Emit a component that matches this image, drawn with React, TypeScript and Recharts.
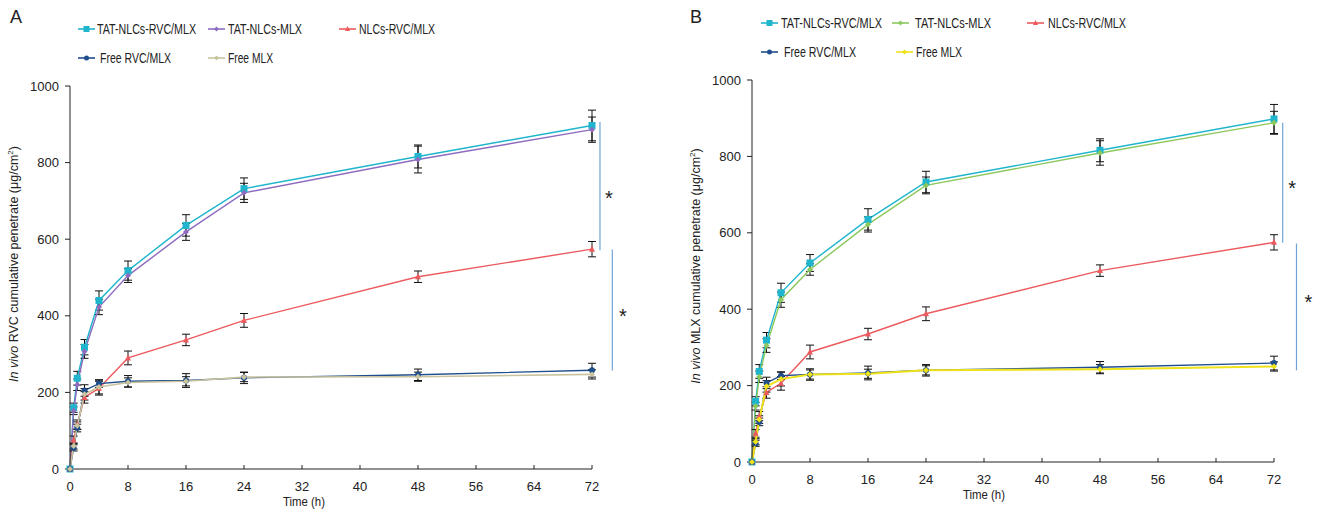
import React from 'react'
import { LineChart, Line, XAxis, YAxis, ErrorBar, ReferenceLine } from 'recharts'

// sampling times (h)
const times = [0, 0.5, 1, 2, 4, 8, 16, 24, 48, 72]
const xTicks = [0, 8, 16, 24, 32, 40, 48, 56, 64, 72]
const yTicks = [0, 200, 400, 600, 800, 1000]

// Panel A: RVC cumulative penetration (ug/cm2)
const aTatRvcMlx = [0, 160, 237, 318, 440, 518, 636, 732, 816, 897]
const aTatRvcMlxErr = [0, 12, 18, 20, 25, 25, 28, 28, 30, 40]
const aTatMlx = [0, 152, 220, 307, 423, 505, 619, 721, 808, 886]
const aTatMlxErr = [0, 10, 15, 18, 20, 18, 22, 25, 35, 33]
const aNlcRvcMlx = [0, 76, 116, 187, 211, 290, 337, 388, 502, 574]
const aNlcRvcMlxErr = [0, 10, 12, 15, 18, 18, 15, 18, 15, 20]
const aFreeRvcMlx = [0, 55, 107, 205, 223, 229, 231, 238, 246, 258]
const aFreeRvcMlxErr = [0, 8, 10, 15, 10, 15, 18, 15, 15, 18]
const aFreeMlx = [0, 60, 113, 195, 214, 226, 229, 240, 241, 247]
const aFreeMlxErr = [0, 8, 10, 15, 18, 12, 12, 12, 12, 12]

// Panel B: MLX cumulative penetration (ug/cm2)
const bTatRvcMlx = [0, 159, 237, 319, 443, 521, 635, 733, 816, 898]
const bTatRvcMlxErr = [0, 12, 18, 20, 25, 22, 28, 28, 30, 38]
const bTatMlx = [0, 146, 223, 305, 425, 504, 622, 724, 809, 888]
const bTatMlxErr = [0, 10, 15, 18, 20, 15, 20, 22, 32, 30]
const bNlcRvcMlx = [0, 75, 120, 182, 206, 288, 335, 388, 501, 575]
const bNlcRvcMlxErr = [0, 10, 12, 15, 18, 18, 15, 18, 15, 20]
const bFreeRvcMlx = [0, 49, 105, 207, 226, 229, 233, 240, 248, 259]
const bFreeRvcMlxErr = [0, 8, 10, 15, 10, 15, 18, 15, 15, 18]
const bFreeMlx = [0, 53, 111, 198, 217, 229, 231, 240, 243, 250]
const bFreeMlxErr = [0, 8, 10, 15, 18, 12, 12, 12, 12, 12]

const FONT = '"Liberation Sans", Arial, sans-serif'
const INK = '#222'

type Marker = 'square' | 'diamond' | 'triangle' | 'circle'

interface Series {
  name: string
  color: string
  marker: Marker
  size: number
  width: number
  values: number[]
  errors: number[]
  // legend placement
  lx: number
  ly: number
  tx: number
  tw: number
}

const drawMarker = (shape: Marker, color: string, cx: number, cy: number, s: number, key?: any) => {
  const h = s / 2
  if (shape === 'square') return <rect key={key} x={cx - h} y={cy - h} width={s} height={s} fill={color} />
  if (shape === 'circle') return <circle key={key} cx={cx} cy={cy} r={h} fill={color} />
  if (shape === 'triangle')
    return <polygon key={key} points={`${cx},${cy - h - 0.5} ${cx + h},${cy + h - 0.5} ${cx - h},${cy + h - 0.5}`} fill={color} />
  return <polygon key={key} points={`${cx},${cy - h} ${cx + h},${cy} ${cx},${cy + h} ${cx - h},${cy}`} fill={color} />
}

const dotRenderer = (s: Series) => (props: any) => {
  const { cx, cy, index } = props
  if (cx == null || cy == null) return <g key={index} />
  return drawMarker(s.marker, s.color, cx, cy, s.size, index)
}

interface Sig {
  x: number
  y1: number
  y2: number
  dx: number
  dy: number
}

interface PanelCfg {
  letter: string
  drug: string
  left: number
  width: number
  top: number
  right: number
  yAxisWidth: number
  xAxisHeight: number
  yLabelX: number
  yLabelY: number
  timeX: number
  timeY: number
  series: Series[]
  sigs: Sig[]
}

const panelA: PanelCfg = {
  letter: 'A',
  drug: 'RVC',
  left: 0,
  width: 660,
  top: 86,
  right: 68,
  yAxisWidth: 70,
  xAxisHeight: 50,
  yLabelX: 18,
  yLabelY: 264,
  timeX: 304,
  timeY: 506,
  series: [
    { name: 'TAT-NLCs-RVC/MLX', color: '#1fb5cd', marker: 'square', size: 7, width: 1.4, values: aTatRvcMlx, errors: aTatRvcMlxErr, lx: 78, ly: 29, tx: 97, tw: 99 },
    { name: 'TAT-NLCs-MLX', color: '#8d6cbf', marker: 'diamond', size: 6, width: 1.4, values: aTatMlx, errors: aTatMlxErr, lx: 208, ly: 29, tx: 228, tw: 74 },
    { name: 'NLCs-RVC/MLX', color: '#ec5a5e', marker: 'triangle', size: 6, width: 1.4, values: aNlcRvcMlx, errors: aNlcRvcMlxErr, lx: 339, ly: 29, tx: 359, tw: 76 },
    { name: 'Free RVC/MLX', color: '#1f4e8c', marker: 'circle', size: 6, width: 1.4, values: aFreeRvcMlx, errors: aFreeRvcMlxErr, lx: 78, ly: 58, tx: 100, tw: 71 },
    { name: 'Free MLX', color: '#c9c39e', marker: 'diamond', size: 6, width: 1.6, values: aFreeMlx, errors: aFreeMlxErr, lx: 208, ly: 58, tx: 228, tw: 45 },
  ],
  sigs: [
    { x: 73.1, y1: 906, y2: 571, dx: 9, dy: 19 },
    { x: 74.8, y1: 573, y2: 257, dx: 10.5, dy: 13 },
  ],
}

const panelB: PanelCfg = {
  letter: 'B',
  drug: 'MLX',
  left: 680,
  width: 644,
  top: 80,
  right: 50,
  yAxisWidth: 72,
  xAxisHeight: 57,
  yLabelX: 700,
  yLabelY: 266,
  timeX: 984,
  timeY: 499,
  series: [
    { name: 'TAT-NLCs-RVC/MLX', color: '#1fb5cd', marker: 'square', size: 7, width: 1.4, values: bTatRvcMlx, errors: bTatRvcMlxErr, lx: 761, ly: 23, tx: 781, tw: 101 },
    { name: 'TAT-NLCs-MLX', color: '#8cc85c', marker: 'diamond', size: 6, width: 1.4, values: bTatMlx, errors: bTatMlxErr, lx: 892, ly: 23, tx: 915, tw: 76 },
    { name: 'NLCs-RVC/MLX', color: '#ec5a5e', marker: 'triangle', size: 6, width: 1.4, values: bNlcRvcMlx, errors: bNlcRvcMlxErr, lx: 1027, ly: 23, tx: 1048, tw: 78 },
    { name: 'Free RVC/MLX', color: '#1f4e8c', marker: 'circle', size: 6, width: 1.4, values: bFreeRvcMlx, errors: bFreeRvcMlxErr, lx: 761, ly: 52, tx: 784, tw: 72 },
    { name: 'Free MLX', color: '#eee21a', marker: 'diamond', size: 6, width: 2, values: bFreeMlx, errors: bFreeMlxErr, lx: 896, ly: 52, tx: 916, tw: 46 },
  ],
  sigs: [
    { x: 73.2, y1: 888, y2: 574, dx: 9.5, dy: 12 },
    { x: 75.1, y1: 572, y2: 240, dx: 12, dy: 2 },
  ],
}

const sigLabel = (sg: Sig) => (p: any) => {
  const vb = p.viewBox || {}
  const x = (vb.x ?? 0) + sg.dx
  const y = (vb.y ?? 0) + (vb.height ?? 0) / 2 + sg.dy
  return (
    <text x={x} y={y} textAnchor="middle" fontSize={20} fill={INK} fontFamily={FONT}>
      *
    </text>
  )
}

function Panel({ cfg }: { cfg: PanelCfg }) {
  const rows = times.map((t, i) => {
    const r: Record<string, number> = { t }
    cfg.series.forEach((s, k) => {
      r['v' + k] = s.values[i]
      r['e' + k] = s.errors[i]
    })
    return r
  })

  return (
    <div style={{ position: 'absolute', left: cfg.left, top: 0 }}>
      <LineChart
        width={cfg.width}
        height={519}
        data={rows}
        margin={{ top: cfg.top, right: cfg.right, left: 0, bottom: 0 }}
        style={{ fontFamily: FONT }}
      >
        <XAxis
          type="number"
          dataKey="t"
          domain={[0, 72]}
          ticks={xTicks}
          interval={0}
          height={cfg.xAxisHeight}
          tickSize={-4}
          tickMargin={17}
          stroke={INK}
          tick={{ fill: INK, fontSize: 13 }}
        />
        <YAxis
          type="number"
          domain={[0, 1000]}
          ticks={yTicks}
          interval={0}
          width={cfg.yAxisWidth}
          tickSize={5}
          tickMargin={6}
          stroke={INK}
          tick={{ fill: INK, fontSize: 13 }}
        />
        {cfg.sigs.map((sg, i) => (
          <ReferenceLine
            key={'sig' + i}
            segment={[{ x: sg.x, y: sg.y1 }, { x: sg.x, y: sg.y2 }]}
            ifOverflow="visible"
            stroke="#6fa3d8"
            strokeWidth={1.2}
            label={sigLabel(sg)}
          />
        ))}
        {cfg.series.map((s, k) => (
          <Line
            key={s.name}
            type="linear"
            dataKey={'v' + k}
            name={s.name}
            stroke={s.color}
            strokeWidth={s.width}
            dot={dotRenderer(s)}
            activeDot={false}
            isAnimationActive={false}
          >
            <ErrorBar dataKey={'e' + k} width={4} stroke="#111" strokeWidth={1} direction="y" />
          </Line>
        ))}
      </LineChart>
    </div>
  )
}

function Overlay({ cfg }: { cfg: PanelCfg }) {
  return (
    <g fontFamily={FONT} fill={INK}>
      <text x={cfg.left + 10} y={23} fontSize={18}>
        {cfg.letter}
      </text>
      {cfg.series.map((s) => (
        <g key={s.name}>
          <line x1={s.lx} x2={s.lx + 17} y1={s.ly} y2={s.ly} stroke={s.color} strokeWidth={1.6} />
          {drawMarker(s.marker, s.color, s.lx + 8.5, s.ly, s.marker === 'square' ? 6 : 5)}
          <text x={s.tx} y={s.ly + 5} fontSize={14} textLength={s.tw} lengthAdjust="spacingAndGlyphs">
            {s.name}
          </text>
        </g>
      ))}
      <text
        transform={`translate(${cfg.yLabelX}, ${cfg.yLabelY}) rotate(-90)`}
        textAnchor="middle"
        fontSize={12.5}
      >
        <tspan fontStyle="italic">In vivo</tspan> {cfg.drug} cumulative penetrate (μg/cm
        <tspan dy={-5} fontSize={8}>2</tspan>
        <tspan dy={5}>)</tspan>
      </text>
      <text x={cfg.timeX} y={cfg.timeY} textAnchor="middle" fontSize={13} textLength={42} lengthAdjust="spacingAndGlyphs">
        Time (h)
      </text>
    </g>
  )
}

export default function App() {
  return (
    <div style={{ position: 'absolute', left: 0, top: 0, width: 1324, height: 519, background: '#fff' }}>
      <Panel cfg={panelA} />
      <Panel cfg={panelB} />
      <svg width={1324} height={519} style={{ position: 'absolute', left: 0, top: 0, pointerEvents: 'none' }}>
        <Overlay cfg={panelA} />
        <Overlay cfg={panelB} />
      </svg>
    </div>
  )
}
